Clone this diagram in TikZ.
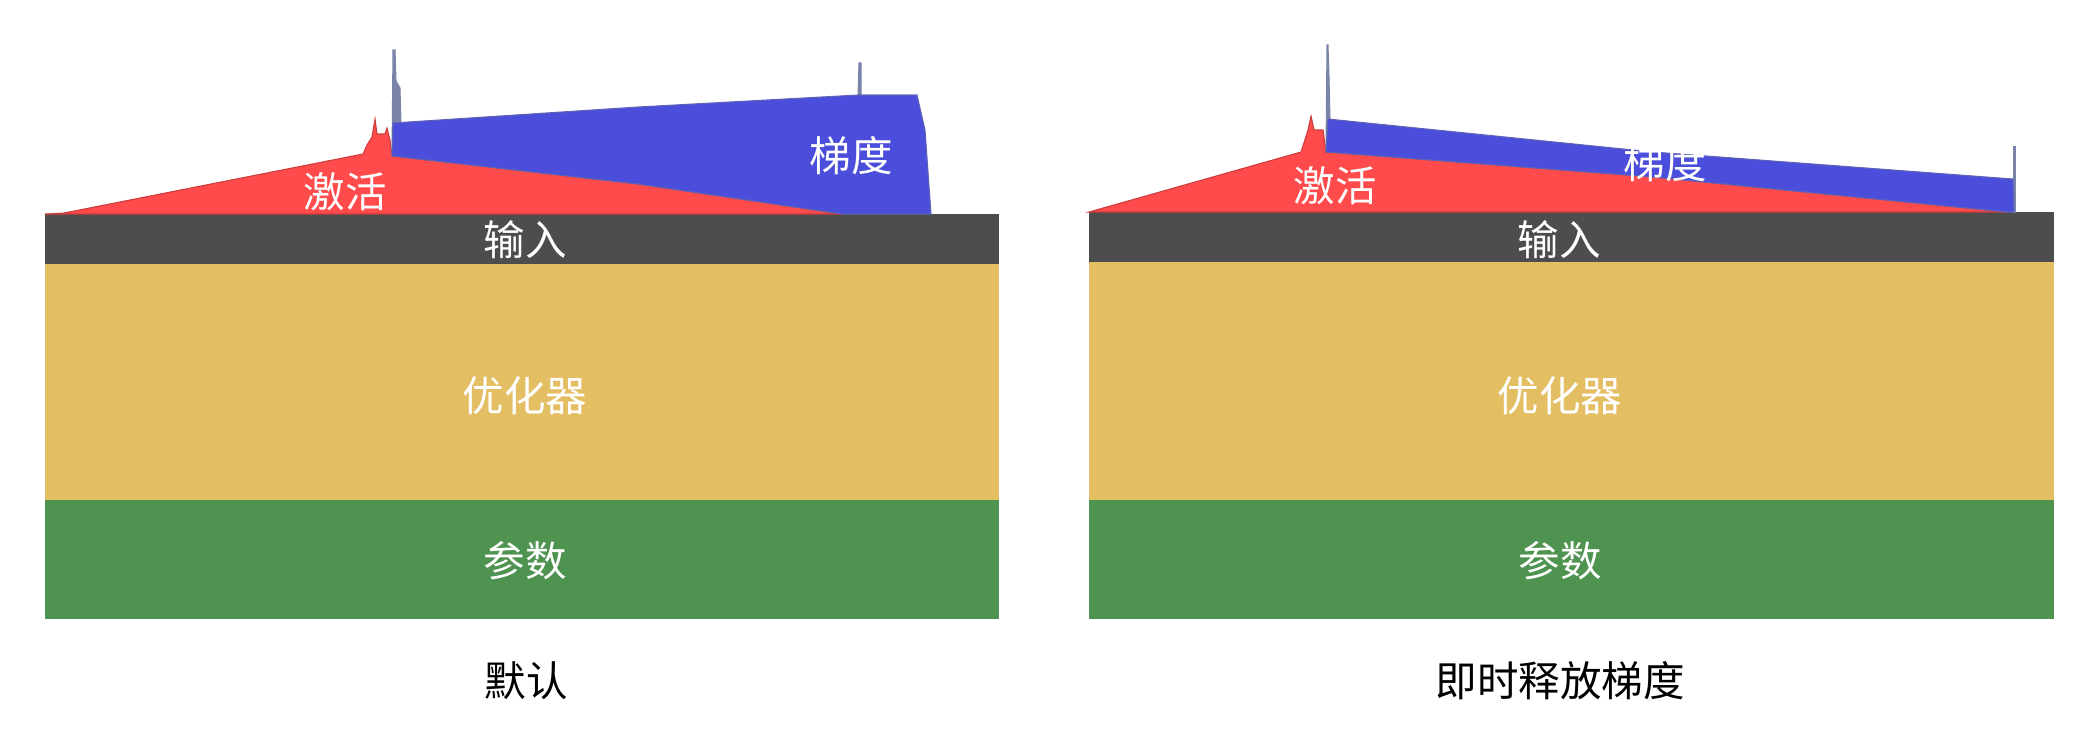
\documentclass[tikz,border=0pt]{standalone}
\usepackage{fontspec}
\setmainfont{Noto Sans CJK SC}
\usepackage{tikz}
\usetikzlibrary{positioning}
\definecolor{actred}{HTML}{FF4B4B}
\definecolor{gradblue}{HTML}{4B4EDB}
\definecolor{spikegray}{HTML}{7A84A8}
\definecolor{inputgray}{HTML}{4D4D4D}
\definecolor{optyellow}{HTML}{E4BE63}
\definecolor{paramgreen}{HTML}{4E934F}

\begin{document}
\begin{tikzpicture}[x=0.01cm, y=-0.01cm,
				act/.style={fill=actred, draw=actred!80!black, line width=0.3pt},
				grad/.style={fill=gradblue, draw=gradblue!60!gray, line width=0.3pt},
				spike/.style={fill=spikegray, draw=spikegray, line width=0.3pt},
				boxtext/.style={text=white, inner sep=0pt, font=\fontsize{11.8}{14}\selectfont},
				captiontext/.style={text=black, inner sep=0pt, font=\fontsize{11.8}{14}\selectfont}]
				\useasboundingbox (0,0) rectangle (2100,747);
				
				\fill[inputgray] (45,214) rectangle (999,264);
				\fill[optyellow] (45,264) rectangle (999,500);
				\fill[paramgreen] (45,500) rectangle (999,619);
				\fill[act] (45,214) -- (64,213) -- (363,154) -- (367,145) -- (372,137) -- (375,119) -- (377,134) -- (385,134) -- (387,128) -- (390,140) -- (392,156) -- (638,184) -- (842,214) -- cycle;
				\filldraw[spike] (392,156) -- (393,50) -- (395,50) -- (396,81) -- (400,88) -- (401,123) -- (393,123) -- cycle;
				\filldraw[spike] (858,95) -- (859,63) -- (861,63) -- (861,95) -- cycle;
				\filldraw[grad] (393,123) -- (638,107) -- (858,95) -- (917,95) -- (925,130) -- (931,214) -- (842,214) -- (638,184) -- (392,156) -- cycle;
				
				\node[boxtext](actL) at (345,192) {激活};
				\node[boxtext](gradL) at (851,156) {梯度};
				\node[boxtext](inputL) at (525,240) {输入};
				\node[boxtext](optL) at (525,396) {优化器};
				\node[boxtext](paramL) at (525,561) {参数};
				\node[captiontext](capL) at (526,681) {默认};
				
				\fill[inputgray] (1089,212) rectangle (2054,262);
				\fill[optyellow] (1089,262) rectangle (2054,500);
				\fill[paramgreen] (1089,500) rectangle (2054,619);
				\filldraw[act] (1089,212) -- (1301,152) -- (1308,130) -- (1311,116) -- (1314,130) -- (1323,130) -- (1326,152) -- (1653,177) -- (2007,212) -- cycle;
				\filldraw[spike] (1326,152) -- (1327,45) -- (1328,45) -- (1329,77) -- (1330,119) -- cycle;
				\filldraw[spike] (2013,147) -- (2015,147) -- (2015,212) -- (2013,212) -- cycle;
				\filldraw[grad] (1328,119) -- (1653,152) -- (2013,179) -- (2014,212) -- (2007,212) -- (1653,177) -- (1326,152) -- cycle;
				
				\node[boxtext](actR) at (1335,186) {激活};
				\node[boxtext](gradR) at (1665,163) {梯度};
				\node[boxtext](inputR) at (1559,240) {输入};
				\node[boxtext](optR) at (1560,396) {优化器};
				\node[boxtext](paramR) at (1560,561) {参数};
				\node[captiontext](capR) at (1560,681) {即时释放梯度};
			\end{tikzpicture}
\end{document}
